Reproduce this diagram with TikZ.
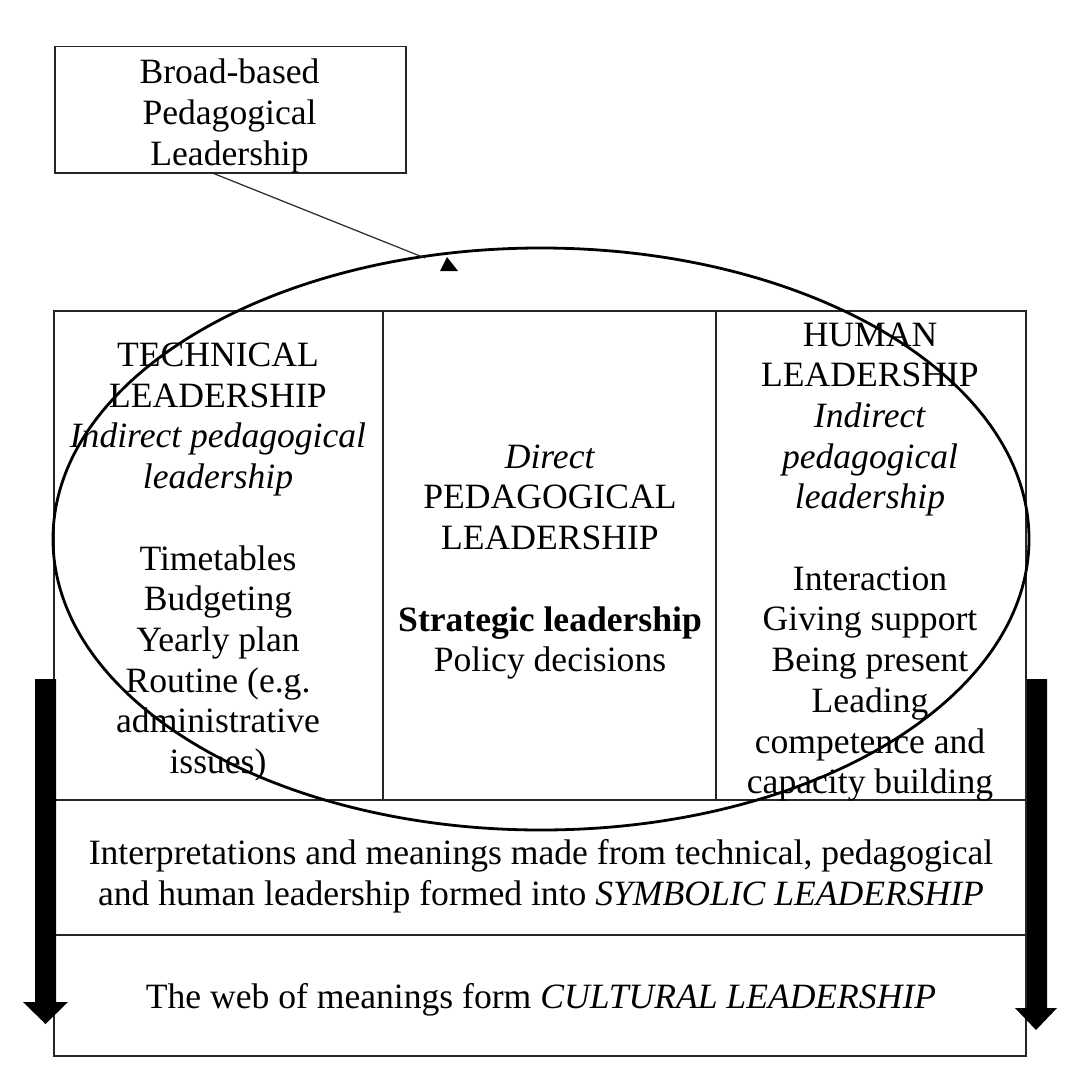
\documentclass[tikz,border=0pt]{standalone}
\usepackage{fontspec}
\setmainfont{Liberation Serif}
\usetikzlibrary{calc}
\begin{document}
\begin{tikzpicture}[x=0.5pt,y=-0.5pt,
  txt/.style={align=center,inner sep=0pt,font=\fontsize{17.8}{20.35}\selectfont},
  frame/.style={draw=black!85,line width=0.75pt},
  bigarrow/.style={fill=black,draw=none}]
\useasboundingbox (0,0) rectangle (1086,1086);

% heading box
\node[frame,minimum width=175.5pt,minimum height=63pt,inner sep=0pt,anchor=north west] (top) at (54,46) {};
\node[txt] (toptxt) at (229.5,116) {Broad-based\\Pedagogical\\Leadership};

% main table
\draw[frame] (54,311) rectangle (1026,1056);
\draw[frame] (383,311) -- (383,800);
\draw[frame] (716,311) -- (716,800);
\draw[frame] (54,800) -- (1026,800);
\draw[frame] (54,935) -- (1026,935);

% column texts
\node[txt] (tech) at (218,562) {TECHNICAL\\LEADERSHIP\\\textit{Indirect pedagogical}\\\textit{leadership}\\[20.35pt]Timetables\\Budgeting\\Yearly plan\\Routine (e.g.\\administrative\\issues)};
\node[txt] (ped) at (550,562) {\textit{Direct}\\PEDAGOGICAL\\LEADERSHIP\\[20.35pt]\textbf{Strategic leadership}\\Policy decisions};
\node[txt] (hum) at (870,562) {HUMAN\\LEADERSHIP\\\textit{Indirect}\\\textit{pedagogical}\\\textit{leadership}\\[20.35pt]Interaction\\Giving support\\Being present\\Leading\\competence and\\capacity building};
\node[txt] (sym) at (541,876) {Interpretations and meanings made from technical, pedagogical\\and human leadership formed into \textit{SYMBOLIC LEADERSHIP}};
\node[txt] (cul) at (541,1000) {The web of meanings form \textit{CULTURAL LEADERSHIP}};

% encircling ellipse
\draw[line width=1.4pt] (541,539) ellipse [x radius=488, y radius=291];

% pointer from heading box
\coordinate (ptr) at (425,258);
\draw[line width=0.6pt,black!85] ($(top.south west)!0.453!(top.south east)$) -- (ptr);
\fill (447,257) -- (440,271) -- (458,271) -- cycle;

% downward block arrows
\path[bigarrow] (35,679) -- (56,679) -- (56,1002) -- (68,1002) -- (45.5,1024) -- (23,1002) -- (35,1002) -- cycle;
\path[bigarrow] (1027,679) -- (1047,679) -- (1047,1008) -- (1057,1008) -- (1036,1030) -- (1015,1008) -- (1027,1008) -- cycle;
\end{tikzpicture}
\end{document}
